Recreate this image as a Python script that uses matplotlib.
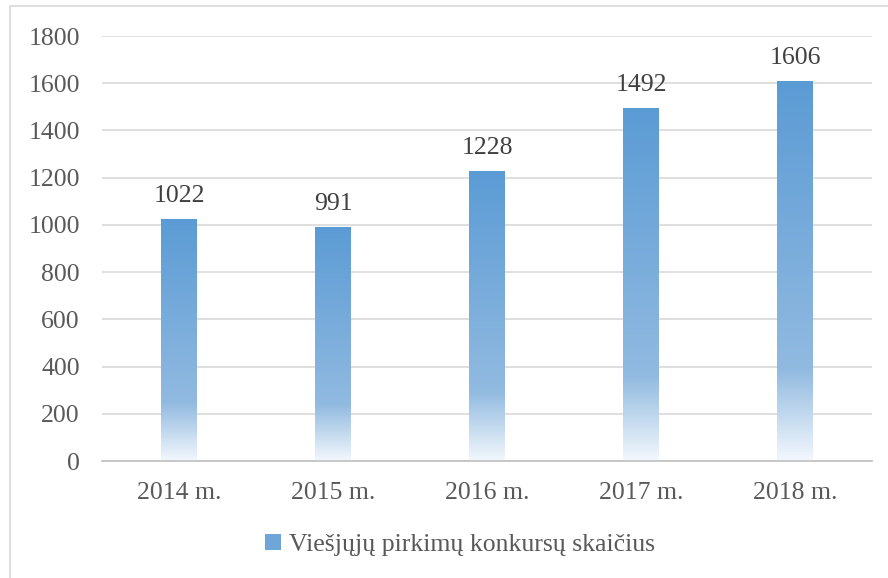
import matplotlib
matplotlib.use('Agg')
import numpy as np
import matplotlib.pyplot as plt
from matplotlib.colors import LinearSegmentedColormap
from matplotlib.patches import Patch, Rectangle

years = ['2014 m.', '2015 m.', '2016 m.', '2017 m.', '2018 m.']
counts = [1022, 991, 1228, 1492, 1606]
series_name = 'Viešjųjų pirkimų konkursų skaičius'

plt.rcParams['font.family'] = ['Liberation Serif', 'DejaVu Serif']
TXT = '#595959'

# gradient from near white at the base to Office blue at the top
grad = LinearSegmentedColormap.from_list('bar_grad', [
    (0.0, (0.95, 0.97, 0.99)),
    (0.24, (0.57, 0.73, 0.88)),
    (1.0, (0.357, 0.608, 0.835)),
])

fig = plt.figure(figsize=(8.88, 5.78), dpi=100)
ax = fig.add_axes([0.115, 0.2024, 0.867, 0.7353])

x = np.arange(len(years))
width = 0.23
ax.set_xlim(-0.5, len(years) - 0.5)
ax.set_ylim(0, 1800)

col = np.linspace(0, 1, 256).reshape(-1, 1)
for xi, v in zip(x, counts):
    ax.imshow(col, cmap=grad, origin='lower', aspect='auto',
              extent=(xi - width / 2, xi + width / 2, 0, v), zorder=2)
    ax.annotate(str(v), (xi, v), xytext=(0, 9), textcoords='offset points',
                ha='center', va='bottom', fontsize=18.5, color='#404040')

ax.set_yticks(np.arange(0, 1801, 200))
ax.set_xticks(x)
ax.set_xticklabels(years)
ax.tick_params(axis='both', length=0, labelsize=18.5, colors=TXT)
ax.tick_params(axis='y', pad=16)
ax.tick_params(axis='x', pad=15)
ax.grid(axis='y', color='#D9D9D9', linewidth=1.2, zorder=0)
ax.set_axisbelow(True)
for s in ['top', 'right', 'left']:
    ax.spines[s].set_visible(False)
ax.spines['bottom'].set_color('#BFBFBF')
ax.spines['bottom'].set_linewidth(1.2)

handle = Patch(facecolor='#6FA6DA', edgecolor='none')
fig.legend([handle], [series_name], loc='center', bbox_to_anchor=(0.518, 0.057),
           frameon=False, fontsize=18.5, handlelength=0.6, handleheight=0.6,
           handletextpad=0.3, labelcolor=TXT)

# outer chart frame
fig.patches.append(Rectangle((0.0113, -0.01), 1.0, 1.0 - 0.0104 + 0.01,
                             transform=fig.transFigure, fill=False,
                             edgecolor='#D9D9D9', linewidth=1.2))

fig.savefig('out.png', dpi=100)
